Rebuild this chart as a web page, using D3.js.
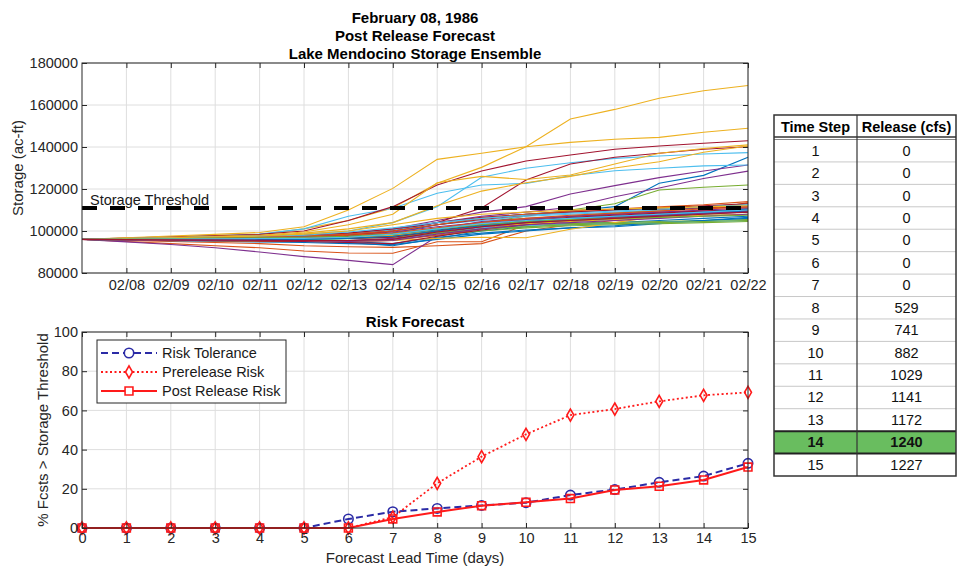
<!DOCTYPE html>
<html>
<head>
<meta charset="utf-8">
<script src="https://cdn.jsdelivr.net/npm/d3@7"></script>
<style>
  body { margin: 0; background: #fff; }
  svg { font-family: Arial, "Liberation Sans", Helvetica, sans-serif; }
</style>
</head>
<body>
<div id="chart"></div>
<script>
// ---- DATA ----
const dates = ["1986-02-07", "1986-02-08", "1986-02-09", "1986-02-10", "1986-02-11", "1986-02-12",
  "1986-02-13", "1986-02-14", "1986-02-15", "1986-02-16", "1986-02-17", "1986-02-18",
  "1986-02-19", "1986-02-20", "1986-02-21", "1986-02-22"];
const storageThreshold = 111000;

// ensemble members, storage in 1000 ac-ft, one value per day
const members = [
  [96, 96.2, 96.4, 96.6, 96.8, 97, 97.5, 99, 103, 106, 108, 109.5, 111.6, 122.7, 126.5, 135.1],
  [96, 95, 94, 93, 92, 90.5, 89.5, 89.4, 94.9, 94.9, 103, 106, 107, 108, 109, 110],
  [96, 96.5, 97, 97.6, 98.3, 101, 105, 111, 122.7, 130.3, 140.1, 153.3, 157.9, 163.2, 166.8, 169.3],
  [96, 96.4, 96.8, 97.2, 97.6, 98, 99, 101, 105, 109, 111.6, 117.6, 121.6, 125.4, 128.6, 131.4],
  [96, 96.2, 96.4, 96.6, 96.8, 97, 97.5, 98.5, 101, 104, 107, 110, 113, 119.5, 120.8, 121.9],
  [96, 96.6, 97.2, 97.8, 98.5, 101, 107, 110.8, 118, 121.9, 122.7, 126.3, 128.7, 129.9, 131, 131.4],
  [96, 96.6, 97.2, 97.8, 98.4, 100, 105, 111.6, 121.9, 128.6, 133.3, 136.2, 138.9, 140.5, 141.8, 143],
  [96, 96.3, 96.6, 96.9, 97.2, 97.5, 98, 99, 101, 103, 105, 106, 107, 108, 109, 110],
  [96, 95.5, 95, 94.5, 94, 93, 92.5, 92.2, 93, 94, 100, 103, 105, 106.5, 108, 109.5],
  [96, 96.8, 97.6, 98.4, 99.3, 102, 110, 120.3, 134.1, 137, 140.1, 142.2, 143.7, 144.6, 147, 148.9],
  [96, 96.3, 96.6, 96.9, 97.2, 97.5, 98, 100, 104, 107, 109, 111.3, 116.3, 120.5, 125, 128.5],
  [96, 96.1, 96.2, 96.3, 96.4, 96.5, 97, 98, 100.5, 103, 105.5, 107, 108.5, 110, 111.5, 113],
  [96, 96.4, 96.8, 97.2, 97.6, 98.5, 100, 104, 111.6, 125.6, 129.9, 132.5, 134.6, 135.7, 136.7, 137.3],
  [96, 96.3, 96.6, 96.9, 97.2, 97.6, 98.5, 100.5, 104, 111, 124.3, 131.9, 135.1, 137, 138.9, 140.1],
  [96, 95.8, 95.6, 95.4, 95.2, 95, 94.5, 93, 96.5, 100, 102, 103.5, 104, 105, 106, 107],
  [96, 96.2, 96.4, 96.6, 96.8, 97, 97.3, 97.5, 100, 102, 104, 106, 108, 109.5, 111, 112],
  [96, 96.5, 97, 97.5, 98, 99.5, 103, 108, 123, 126, 124.5, 126.7, 131.9, 137, 139.3, 141],
  [96, 94.8, 93.6, 92, 90, 87.8, 86, 84, 97.5, 101, 104, 106, 107, 108, 108.5, 109],
  [96, 96.1, 96.2, 96.3, 96.4, 96.5, 96.8, 97.5, 99, 101, 102.5, 103.5, 104, 104.5, 105, 105.5],
  [96, 96.3, 96.6, 96.9, 97.2, 97.8, 99, 100.5, 103, 105, 107, 108, 109, 110, 111, 112],
  [96, 96.4, 96.8, 97.2, 97.6, 98, 99, 101, 104, 106.5, 108, 109, 110, 110.5, 111, 111.5],
  [96, 95.9, 95.8, 95.7, 95.6, 95.5, 95, 94, 97, 99, 100.5, 101.5, 102, 103.5, 105, 106],
  [96, 96.1, 96.2, 96.3, 96.4, 96.6, 97, 97.8, 99.5, 101.5, 103.5, 105, 106.5, 108, 110, 113.5],
  [96, 96.4, 96.8, 97.2, 97.6, 99, 101, 104, 112, 119, 123, 126, 130, 133, 137.5, 140.5],
  [96, 96.3, 96.6, 96.9, 97.2, 97.5, 98, 99.5, 102, 104, 105.5, 107, 108, 109, 110, 111],
  [96, 95.9, 95.8, 95.7, 95.6, 95.4, 95.5, 96, 98, 100, 101.5, 102.5, 103, 103.5, 104, 104.5],
  [96, 96, 96, 96, 96, 96, 96.5, 97, 99, 101, 103, 104.5, 105.5, 106.5, 107.5, 108],
  [96, 96.2, 96.4, 96.6, 96.8, 97, 98, 100, 103, 105.5, 107.5, 109, 110, 111, 112, 113],
  [96, 95.7, 95.4, 95.1, 94.8, 94.5, 94, 93.5, 96, 98.5, 100, 101.5, 102.5, 104, 105, 106.5],
  [96, 95.8, 95.6, 95.4, 95.2, 95, 95, 95.5, 98, 101, 103.5, 105, 106.5, 108, 109, 110.5],
  [96, 95.8, 95.6, 95.4, 95.2, 95, 95, 95.5, 96.5, 97, 96.8, 100.8, 104, 107, 108.5, 109.5],
  [96, 96.2, 96.4, 96.6, 96.8, 97, 97.5, 98, 101, 104.5, 106, 107, 108, 109, 109.5, 110],
  [96, 96.1, 96.2, 96.3, 96.4, 96.6, 97, 98, 100, 102, 104, 105.5, 106.5, 107.5, 108.5, 109],
  [96, 95.9, 95.8, 95.7, 95.6, 95.5, 95.5, 96, 99, 101.5, 102.5, 103, 103.5, 104, 104.5, 105],
  [96, 95.8, 95.6, 95.4, 95.2, 95, 94.5, 94, 97.5, 100.5, 103, 104.5, 106, 107.5, 108.5, 109.5],
  [96, 96.2, 96.4, 96.6, 96.8, 97, 97.5, 98.5, 100.5, 102.5, 104, 105, 106, 107, 108.5, 109.5],
  [96, 96.3, 96.6, 96.9, 97.2, 97.6, 98.5, 100, 103, 106, 108, 109.5, 110.5, 111.5, 112.5, 114],
  [96, 96.1, 96.2, 96.3, 96.4, 96.5, 97, 98, 100, 102, 103.5, 104.5, 105.5, 106.5, 107.5, 108],
  [96, 95.9, 95.8, 95.7, 95.6, 95.5, 95.5, 96.5, 99, 102, 104, 105.5, 106.5, 107.5, 108.5, 109],
  [96, 96, 96, 96, 96, 96, 96.3, 97, 99, 101, 102, 103, 103.5, 104, 104.5, 105],
  [96, 96.4, 96.8, 97.2, 97.6, 98, 99.5, 101.5, 104, 106, 107.5, 108.5, 109.5, 110.5, 111.5, 112.5],
  [96, 96.1, 96.2, 96.3, 96.4, 96.5, 96.5, 97, 100, 103, 105, 106.5, 107.5, 108.5, 109.5, 110.5],
  [96, 96, 96, 96, 96, 96, 96.5, 97.5, 100, 102.5, 104.5, 106, 107, 108, 109, 110.5],
  [96, 96.2, 96.4, 96.6, 96.8, 97, 98, 99, 101.5, 104, 106, 107.5, 108.5, 109.5, 110.5, 111.5],
  [96, 96.4, 96.8, 97.2, 97.6, 98.5, 100, 103, 106, 108, 109, 110, 110.5, 111, 111.5, 112],
  [96, 95.9, 95.8, 95.7, 95.6, 95.4, 95, 95.5, 98.5, 101, 103, 104, 105, 106, 107, 108],
  [96, 96.2, 96.4, 96.6, 96.8, 97, 97.5, 98.5, 101, 103, 104.5, 105.5, 106, 106.5, 107, 107.5],
  [96, 96.1, 96.2, 96.3, 96.4, 96.5, 97, 98.5, 101, 103.5, 105, 106, 107, 108, 109, 110],
  [96, 95.9, 95.8, 95.7, 95.6, 95.5, 95.5, 96, 99.5, 102, 104, 105, 106, 107, 108, 109]
];

const leadDays = [0, 1, 2, 3, 4, 5, 6, 7, 8, 9, 10, 11, 12, 13, 14, 15];
const riskTolerance = [0, 0, 0, 0, 0, 0, 4.6, 8.3, 10, 11.5, 12.9, 16.8, 19.6, 23.3, 26.5, 33];
const prereleaseRisk = [0, 0, 0, 0, 0, 0, 0, 5.5, 22.8, 36.4, 47.8, 57.6, 60.7, 64.6, 67.7, 69.2];
const postReleaseRisk = [0, 0, 0, 0, 0, 0, 0, 4.6, 8.2, 11.4, 13.1, 15, 19.4, 21.3, 24.5, 31.1];

const timeSteps = [1, 2, 3, 4, 5, 6, 7, 8, 9, 10, 11, 12, 13, 14, 15];
const releases = [0, 0, 0, 0, 0, 0, 0, 529, 741, 882, 1029, 1141, 1172, 1240, 1227];
const highlightStep = 14;

// matlab default line colors
const lineColors = ["#0072BD", "#D95319", "#EDB120", "#7E2F8E", "#77AC30", "#4DBEEE", "#A2142F"];

const W = 963, H = 569;
const axisColor = "#262626", gridColor = "#dedede";

const svg = d3.select("#chart").append("svg")
  .attr("width", W).attr("height", H);

const parseDate = d3.timeParse("%Y-%m-%d");
const dayDates = dates.map(parseDate);

// ======== TOP: storage ensemble ========
const box1 = { left: 82, right: 748, top: 63, bottom: 273 };
const x1 = d3.scaleTime().domain(d3.extent(dayDates)).range([box1.left, box1.right]);
const y1 = d3.scaleLinear().domain([80000, 180000]).range([box1.bottom, box1.top]);
const yTicks1 = y1.ticks(5);
const xTicks1 = dayDates.slice(1);

const g1 = svg.append("g");
g1.append("rect").attr("x", box1.left).attr("y", box1.top)
  .attr("width", box1.right - box1.left).attr("height", box1.bottom - box1.top).attr("fill", "#fff");

g1.append("g").selectAll("line").data(xTicks1).join("line")
  .attr("x1", d => x1(d)).attr("x2", d => x1(d))
  .attr("y1", box1.top).attr("y2", box1.bottom)
  .attr("stroke", gridColor).attr("stroke-width", 1);
g1.append("g").selectAll("line").data(yTicks1).join("line")
  .attr("x1", box1.left).attr("x2", box1.right)
  .attr("y1", d => y1(d)).attr("y2", d => y1(d))
  .attr("stroke", gridColor).attr("stroke-width", 1);

const memberLine = d3.line()
  .x((v, i) => x1(dayDates[i]))
  .y(v => y1(v * 1000));

g1.append("g").attr("fill", "none").attr("stroke-width", 1.1)
  .selectAll("path").data(members).join("path")
  .attr("d", memberLine)
  .attr("stroke", (d, i) => lineColors[i % lineColors.length]);

// threshold
g1.append("line")
  .attr("x1", box1.left).attr("x2", box1.right)
  .attr("y1", y1(storageThreshold)).attr("y2", y1(storageThreshold))
  .attr("stroke", "#000").attr("stroke-width", 4)
  .attr("stroke-dasharray", "15,13");
g1.append("text").attr("x", 90).attr("y", y1(storageThreshold) - 3)
  .attr("font-size", 14.5).attr("fill", "#1a1a1a").text("Storage Threshold");

// axes (ticks inward, box)
const fmtDate = d3.timeFormat("%m/%d");
const ax1b = g1.append("g").attr("transform", `translate(0,${box1.bottom})`)
  .call(d3.axisBottom(x1).tickValues(xTicks1).tickFormat(fmtDate).tickSize(-5).tickPadding(7));
const ax1t = g1.append("g").attr("transform", `translate(0,${box1.top})`)
  .call(d3.axisTop(x1).tickValues(xTicks1).tickFormat("").tickSize(-5));
const ax1l = g1.append("g").attr("transform", `translate(${box1.left},0)`)
  .call(d3.axisLeft(y1).tickValues(yTicks1).tickFormat(d3.format("d")).tickSize(-5).tickPadding(4));
const ax1r = g1.append("g").attr("transform", `translate(${box1.right},0)`)
  .call(d3.axisRight(y1).tickValues(yTicks1).tickFormat("").tickSize(-5));
[ax1b, ax1t, ax1l, ax1r].forEach(a => {
  a.select(".domain").remove();
  a.selectAll("line").attr("stroke", axisColor);
  a.selectAll("text").attr("font-size", 14.5).attr("fill", axisColor).attr("font-family", null);
});
g1.append("rect").attr("x", box1.left).attr("y", box1.top)
  .attr("width", box1.right - box1.left).attr("height", box1.bottom - box1.top)
  .attr("fill", "none").attr("stroke", axisColor).attr("stroke-width", 1);

g1.append("text").attr("transform", `translate(23,${(box1.top + box1.bottom) / 2}) rotate(-90)`)
  .attr("text-anchor", "middle").attr("font-size", 15).attr("fill", axisColor)
  .text("Storage (ac-ft)");

const titleX = (box1.left + box1.right) / 2;
["February 08, 1986", "Post Release Forecast", "Lake Mendocino Storage Ensemble"].forEach((t, i) => {
  svg.append("text").attr("x", titleX).attr("y", 23 + i * 18)
    .attr("text-anchor", "middle").attr("font-size", 15).attr("font-weight", "bold")
    .attr("fill", "#000").text(t);
});

// ======== BOTTOM: risk forecast ========
const box2 = { left: 82, right: 748, top: 332, bottom: 528 };
const x2 = d3.scaleLinear().domain([0, 15]).range([box2.left, box2.right]);
const y2 = d3.scaleLinear().domain([0, 100]).range([box2.bottom, box2.top]);
const xTicks2 = leadDays;
const yTicks2 = y2.ticks(5);

const g2 = svg.append("g");
g2.append("g").selectAll("line").data(xTicks2).join("line")
  .attr("x1", d => x2(d)).attr("x2", d => x2(d))
  .attr("y1", box2.top).attr("y2", box2.bottom)
  .attr("stroke", gridColor);
g2.append("g").selectAll("line").data(yTicks2).join("line")
  .attr("x1", box2.left).attr("x2", box2.right)
  .attr("y1", d => y2(d)).attr("y2", d => y2(d))
  .attr("stroke", gridColor);

const series = [
  { name: "Risk Tolerance", values: riskTolerance, color: "#2b2ba6", dash: "7,4", width: 2, symbol: d3.symbolCircle, size: 70 },
  { name: "Prerelease Risk", values: prereleaseRisk, color: "#ff1a1a", dash: "2,2.5", width: 1.8, symbol: d3.symbolDiamond, size: 42 },
  { name: "Post Release Risk", values: postReleaseRisk, color: "#ff1a1a", dash: null, width: 2, symbol: d3.symbolSquare, size: 62 }
];

const riskLine = d3.line().x((v, i) => x2(leadDays[i])).y(v => y2(v));

series.forEach(s => {
  const gs = g2.append("g");
  gs.append("path").attr("d", riskLine(s.values))
    .attr("fill", "none").attr("stroke", s.color).attr("stroke-width", s.width)
    .attr("stroke-dasharray", s.dash);
  gs.selectAll("path.mk").data(s.values).join("path").attr("class", "mk")
    .attr("transform", (v, i) => `translate(${x2(leadDays[i])},${y2(v)})`)
    .attr("d", d3.symbol(s.symbol, s.size))
    .attr("fill", "none").attr("stroke", s.color).attr("stroke-width", 1.6);
});

const ax2b = g2.append("g").attr("transform", `translate(0,${box2.bottom})`)
  .call(d3.axisBottom(x2).tickValues(xTicks2).tickFormat(d3.format("d")).tickSize(-5).tickPadding(5));
const ax2t = g2.append("g").attr("transform", `translate(0,${box2.top})`)
  .call(d3.axisTop(x2).tickValues(xTicks2).tickFormat("").tickSize(-5));
const ax2l = g2.append("g").attr("transform", `translate(${box2.left},0)`)
  .call(d3.axisLeft(y2).tickValues(yTicks2).tickFormat(d3.format("d")).tickSize(-5).tickPadding(4));
const ax2r = g2.append("g").attr("transform", `translate(${box2.right},0)`)
  .call(d3.axisRight(y2).tickValues(yTicks2).tickFormat("").tickSize(-5));
[ax2b, ax2t, ax2l, ax2r].forEach(a => {
  a.select(".domain").remove();
  a.selectAll("line").attr("stroke", axisColor);
  a.selectAll("text").attr("font-size", 14.5).attr("fill", axisColor).attr("font-family", null);
});
g2.append("rect").attr("x", box2.left).attr("y", box2.top)
  .attr("width", box2.right - box2.left).attr("height", box2.bottom - box2.top)
  .attr("fill", "none").attr("stroke", axisColor);

svg.append("text").attr("x", titleX).attr("y", 327)
  .attr("text-anchor", "middle").attr("font-size", 15).attr("font-weight", "bold")
  .text("Risk Forecast");
svg.append("text").attr("x", titleX).attr("y", 563)
  .attr("text-anchor", "middle").attr("font-size", 15).attr("fill", axisColor)
  .text("Forecast Lead Time (days)");
svg.append("text").attr("transform", `translate(48,${(box2.top + box2.bottom) / 2}) rotate(-90)`)
  .attr("text-anchor", "middle").attr("font-size", 15).attr("fill", axisColor)
  .text("% Fcsts > Storage Threshold");

// legend
const leg = svg.append("g").attr("transform", "translate(97,340)");
leg.append("rect").attr("width", 189).attr("height", 63)
  .attr("fill", "#fff").attr("stroke", axisColor);
series.forEach((s, i) => {
  const ly = 13 + i * 19;
  leg.append("line").attr("x1", 4).attr("x2", 60).attr("y1", ly).attr("y2", ly)
    .attr("stroke", s.color).attr("stroke-width", s.width).attr("stroke-dasharray", s.dash);
  leg.append("path").attr("transform", `translate(32,${ly})`)
    .attr("d", d3.symbol(s.symbol, s.size)).attr("fill", "#fff")
    .attr("stroke", s.color).attr("stroke-width", 1.6);
  leg.append("text").attr("x", 65).attr("y", ly + 5).attr("font-size", 14.5)
    .attr("fill", "#1a1a1a").text(s.name);
});

// ======== TABLE ========
const tbl = { left: 774, mid: 857, right: 956, top: 115, head: 138, bottom: 476 };
const rowY = d3.scaleBand().domain(timeSteps).range([tbl.head + 1.5, tbl.bottom]);
const gt = svg.append("g");
gt.append("rect").attr("x", tbl.left).attr("y", tbl.top)
  .attr("width", tbl.right - tbl.left).attr("height", tbl.bottom - tbl.top).attr("fill", "#fff");

gt.selectAll("rect.hl").data(timeSteps.filter(d => d === highlightStep)).join("rect")
  .attr("class", "hl").attr("x", tbl.left).attr("y", d => rowY(d))
  .attr("width", tbl.right - tbl.left).attr("height", rowY.bandwidth()).attr("fill", "#69bd5f");

gt.selectAll("line.row").data(timeSteps.slice(1)).join("line").attr("class", "row")
  .attr("x1", tbl.left).attr("x2", tbl.right)
  .attr("y1", d => rowY(d)).attr("y2", d => rowY(d))
  .attr("stroke", d => (d === highlightStep || d === highlightStep + 1) ? "#222" : "#c8c8c8")
  .attr("stroke-width", d => (d === highlightStep || d === highlightStep + 1) ? 2 : 1);

gt.append("line").attr("x1", tbl.left).attr("x2", tbl.right)
  .attr("y1", tbl.head - 1).attr("y2", tbl.head - 1).attr("stroke", "#333").attr("stroke-width", 1.5);
gt.append("line").attr("x1", tbl.left).attr("x2", tbl.right)
  .attr("y1", tbl.head + 1.5).attr("y2", tbl.head + 1.5).attr("stroke", "#888").attr("stroke-width", 1);
gt.append("line").attr("x1", tbl.mid).attr("x2", tbl.mid)
  .attr("y1", tbl.top).attr("y2", tbl.bottom).attr("stroke", "#333").attr("stroke-width", 1.2);
gt.append("rect").attr("x", tbl.left).attr("y", tbl.top)
  .attr("width", tbl.right - tbl.left).attr("height", tbl.bottom - tbl.top)
  .attr("fill", "none").attr("stroke", "#333").attr("stroke-width", 1.5);

const c1 = (tbl.left + tbl.mid) / 2, c2 = (tbl.mid + tbl.right) / 2;
gt.append("text").attr("x", c1).attr("y", tbl.top + 17).attr("text-anchor", "middle")
  .attr("font-size", 14.5).attr("font-weight", "bold").text("Time Step");
gt.append("text").attr("x", c2).attr("y", tbl.top + 17).attr("text-anchor", "middle")
  .attr("font-size", 14.5).attr("font-weight", "bold").text("Release (cfs)");

timeSteps.forEach((t, i) => {
  const cy = rowY(t) + rowY.bandwidth() / 2 + 5;
  const bold = t === highlightStep ? "bold" : null;
  gt.append("text").attr("x", c1).attr("y", cy).attr("text-anchor", "middle")
    .attr("font-size", 14.5).attr("font-weight", bold).attr("fill", "#111").text(t);
  gt.append("text").attr("x", c2).attr("y", cy).attr("text-anchor", "middle")
    .attr("font-size", 14.5).attr("font-weight", bold).attr("fill", "#111").text(releases[i]);
});
</script>
</body>
</html>
